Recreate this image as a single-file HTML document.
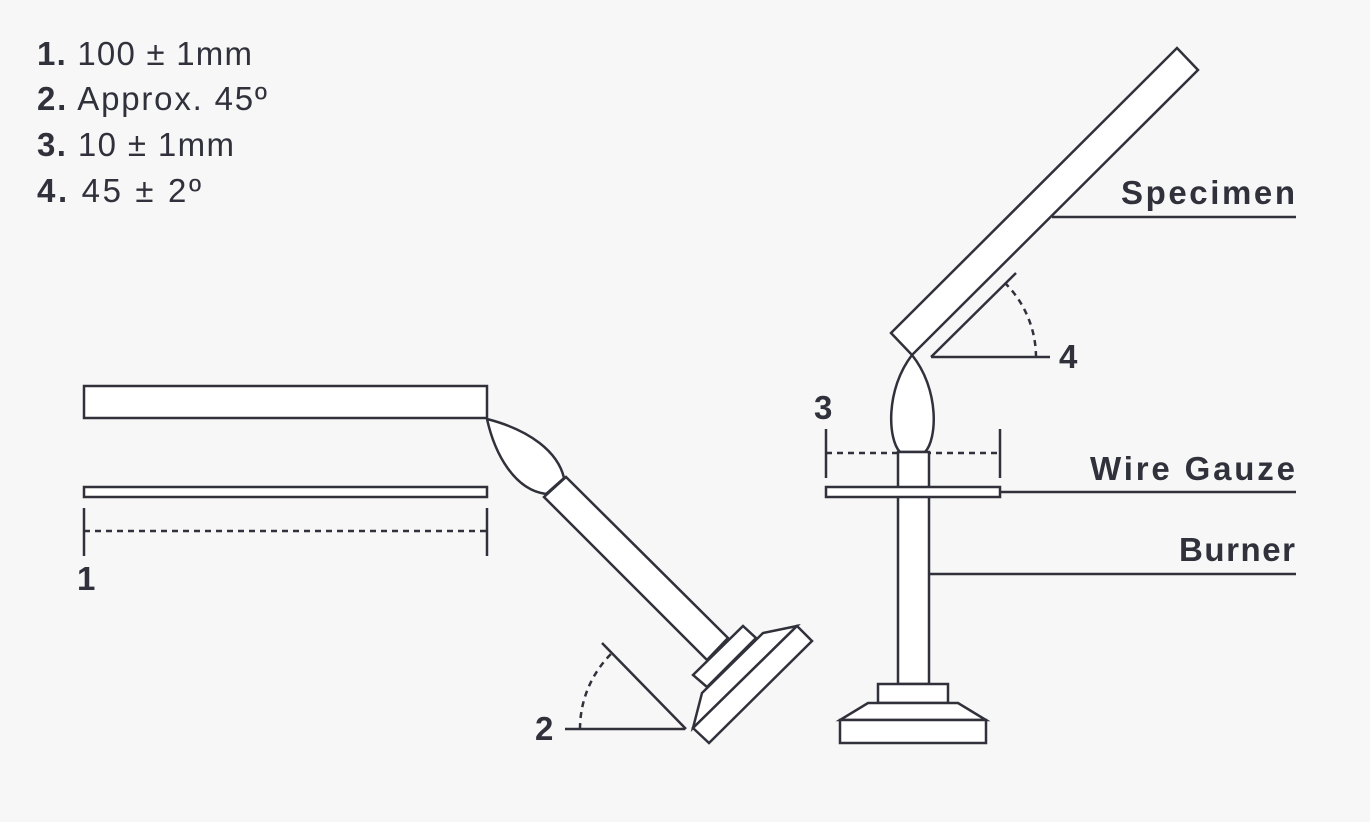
<!DOCTYPE html>
<html><head><meta charset="utf-8"><style>
html,body{margin:0;padding:0;background:#f7f7f7}
svg{display:block}
text{font-family:"Liberation Sans",sans-serif;fill:#30313b}
</style></head><body>
<svg width="1370" height="822" viewBox="0 0 1370 822" xmlns="http://www.w3.org/2000/svg">
<rect width="1370" height="822" fill="#f7f7f7"/>
<g font-size="33">
<text x="37" y="65" textLength="215" lengthAdjust="spacing"><tspan font-weight="bold">1.</tspan> 100 ± 1mm</text>
<text x="37" y="110" letter-spacing="1.8"><tspan font-weight="bold">2.</tspan> Approx. 45º</text>
<text x="37" y="156" textLength="197" lengthAdjust="spacing"><tspan font-weight="bold">3.</tspan> 10 ± 1mm</text>
<text x="37" y="202" textLength="164" lengthAdjust="spacing"><tspan font-weight="bold">4.</tspan> 45 ± 2º</text>
</g>
<g stroke="#30313b" stroke-width="2.5" fill="#fff" stroke-linejoin="miter">
<rect x="84" y="386" width="403" height="32"/>
<rect x="84" y="487" width="403" height="10"/>
<line x1="84" y1="508" x2="84" y2="556"/>
<line x1="487" y1="508" x2="487" y2="556"/>
<line x1="84" y1="531" x2="487" y2="531" stroke-dasharray="6,5"/>
<path d="M487,419 C530,430 558,452 564,478 L546,494 C515,490 495,455 487,419 Z"/>
<polygon points="544,497 566,477 728,638 707,660"/>
<polygon points="702,693 763,633 797,626 693,728"/>
<polygon points="693,675 743,626 756,638 707,687"/>
<polygon points="693,728 797,626 812,641 709,743"/>
<line x1="565" y1="729" x2="685" y2="729" fill="none"/>
<line x1="602" y1="643" x2="686" y2="729" fill="none"/>
<path d="M580,729 A106,106 0 0 1 611,654" fill="none" stroke-dasharray="6,5"/>
<polygon points="891,333 1177,48 1198,70 912,355"/>
<line x1="1052" y1="217" x2="1296" y2="217"/>
<line x1="1016" y1="273" x2="931" y2="357" fill="none"/>
<line x1="931" y1="357" x2="1050" y2="357"/>
<path d="M1036,357 A105,105 0 0 0 1005,283" fill="none" stroke-dasharray="6,5"/>
<path d="M912,355 C885,390 888,440 900,452 L925,452 C937,440 940,390 912,355 Z"/>
<line x1="826" y1="429" x2="826" y2="478"/>
<line x1="1000" y1="429" x2="1000" y2="478"/>
<line x1="826" y1="453" x2="1000" y2="453" stroke-dasharray="6,5"/>
<rect x="898" y="452" width="31" height="232"/>
<rect x="826" y="487" width="174" height="10"/>
<line x1="1000" y1="492" x2="1296" y2="492"/>
<line x1="929" y1="574" x2="1296" y2="574"/>
<rect x="878" y="684" width="70" height="19"/>
<polygon points="868,703 958,703 986,720 840,720"/>
<rect x="840" y="720" width="146" height="23"/>
</g>
<g font-size="33" font-weight="bold">
<text x="77" y="590">1</text>
<text x="535" y="740">2</text>
<text x="814" y="419">3</text>
<text x="1059" y="368">4</text>
<text x="1121" y="204" textLength="174" lengthAdjust="spacing">Specimen</text>
<text x="1090" y="480" textLength="205" lengthAdjust="spacing">Wire Gauze</text>
<text x="1179" y="561" textLength="116" lengthAdjust="spacing">Burner</text>
</g>
</svg>
</body></html>
